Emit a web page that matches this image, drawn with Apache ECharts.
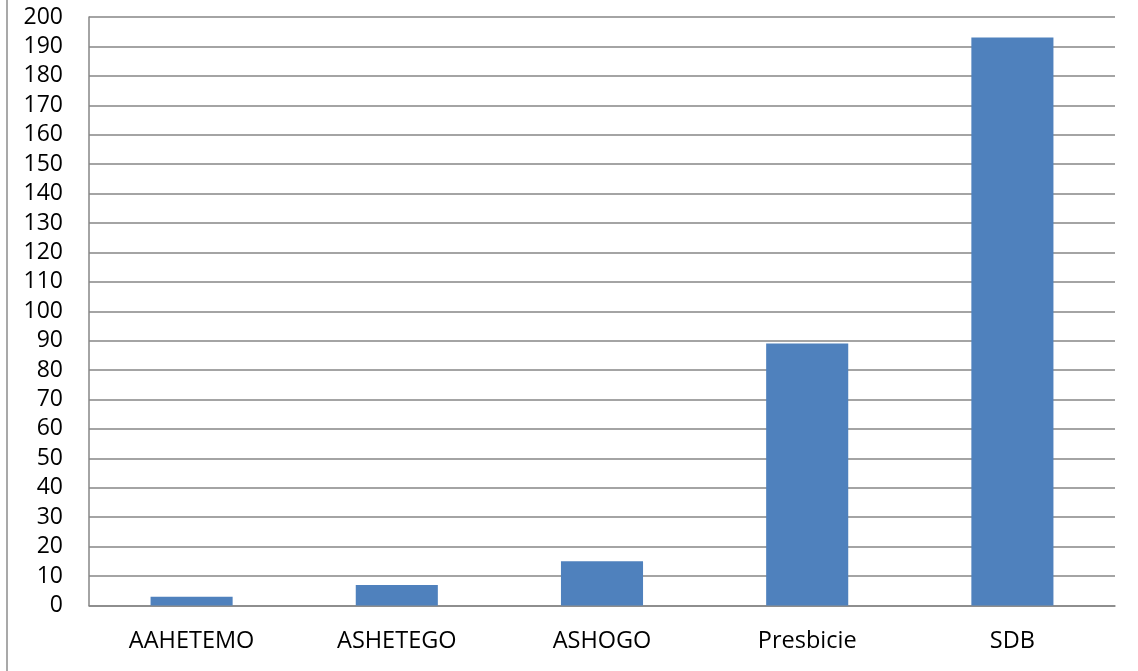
<!DOCTYPE html>
<html>
<head>
<meta charset="utf-8">
<script src="https://cdn.jsdelivr.net/npm/echarts@6/dist/echarts.min.js"></script>
<style>
  html, body { margin: 0; padding: 0; background: #fff; }
  #chart { width: 1138px; height: 671px; }
</style>
</head>
<body>
<div id="chart"></div>
<script>
// Categories and counts shown as bars
const categories = ['AAHETEMO', 'ASHETEGO', 'ASHOGO', 'Presbicie', 'SDB'];
const counts = [3, 7, 15, 89, 193];

// Value axis range
const yMin = 0;
const yMax = 200;
const yStep = 10;

const chart = echarts.init(document.getElementById('chart'));
chart.setOption({
  animation: false,
  backgroundColor: '#ffffff',
  textStyle: { fontFamily: '"Open Sans", sans-serif' },
  grid: { left: 89, right: 23, top: 17, bottom: 65.5, containLabel: false },
  graphic: [{
    type: 'line',
    shape: { x1: 7, y1: 0, x2: 7, y2: 671 },
    style: { stroke: '#8c8c8c', lineWidth: 1.5 }
  }],
  xAxis: {
    type: 'category',
    data: categories,
    axisLine: { show: true, lineStyle: { color: '#868686', width: 1.5 } },
    axisTick: { show: false },
    axisLabel: { color: '#000', fontSize: 23.5, margin: 24, fontFamily: '"Open Sans", sans-serif' },
    splitLine: { show: false }
  },
  yAxis: {
    type: 'value',
    min: yMin,
    max: yMax,
    interval: yStep,
    axisLine: { show: true, lineStyle: { color: '#868686', width: 1.5 } },
    axisTick: { show: false },
    axisLabel: { color: '#000', fontSize: 23, margin: 26, fontFamily: '"Open Sans", sans-serif' },
    splitLine: { show: true, lineStyle: { color: '#868686', width: 1.5 } }
  },
  series: [{
    type: 'bar',
    data: counts,
    barWidth: '40%',
    itemStyle: { color: '#4F81BD' }
  }]
});
</script>
</body>
</html>
